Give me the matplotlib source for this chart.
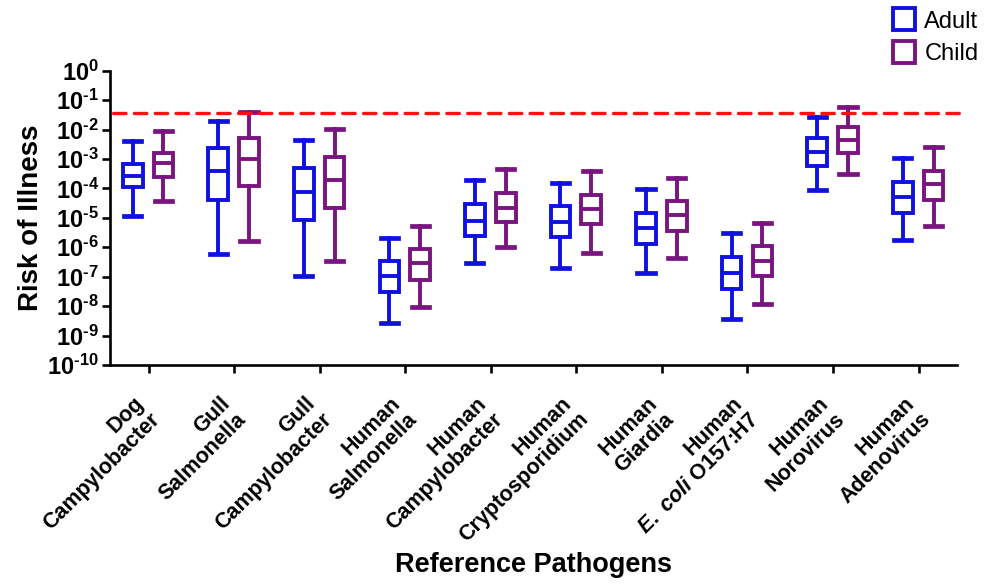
#!/usr/bin/env python3

import numpy as np
import matplotlib
matplotlib.use("Agg")
import matplotlib.pyplot as plt
from matplotlib.lines import Line2D
from matplotlib.ticker import NullLocator
from matplotlib.transforms import ScaledTranslation

plt.rcParams["font.family"] = "Liberation Sans"
plt.rcParams["mathtext.fontset"] = "custom"
plt.rcParams["mathtext.rm"] = "Liberation Sans:bold"
plt.rcParams["mathtext.bf"] = "Liberation Sans:bold"
plt.rcParams["mathtext.it"] = "Liberation Sans:bold:italic"

pathogens = ["Dog\nCampylobacter", "Gull\nSalmonella", "Gull\nCampylobacter",
             "Human\nSalmonella", "Human\nCampylobacter", "Human\nCryptosporidium",
             "Human\nGiardia", "Human\n$\\mathit{E.\\ coli}$ O157:H7",
             "Human\nNorovirus", "Human\nAdenovirus"]

# log10(risk): whisker low, q1, median, q3, whisker high
adult_lo  = [-4.94, -6.23, -6.96, -8.56, -6.52, -6.69, -6.89, -8.45, -4.06, -5.76]
adult_q1  = [-3.95, -4.40, -5.08, -7.51, -5.61, -5.65, -5.89, -7.41, -3.23, -4.82]
adult_med = [-3.57, -3.40, -4.11, -6.97, -5.10, -5.13, -5.34, -6.87, -2.76, -4.28]
adult_q3  = [-3.17, -2.64, -3.32, -6.46, -4.54, -4.60, -4.82, -6.32, -2.28, -3.77]
adult_hi  = [-2.39, -1.71, -2.34, -5.67, -3.72, -3.81, -4.02, -5.53, -1.57, -2.98]

child_lo  = [-4.43, -5.78, -6.46, -8.04, -6.00, -6.19, -6.38, -7.93, -3.51, -5.28]
child_q1  = [-3.61, -3.91, -4.66, -7.11, -5.14, -5.22, -5.45, -6.98, -2.79, -4.40]
child_med = [-3.15, -3.01, -3.70, -6.55, -4.65, -4.70, -4.91, -6.46, -2.36, -3.86]
child_q3  = [-2.79, -2.28, -2.95, -6.07, -4.17, -4.22, -4.43, -5.96, -1.92, -3.40]
child_hi  = [-2.05, -1.40, -1.98, -5.29, -3.34, -3.41, -3.64, -5.17, -1.23, -2.61]

benchmark = 0.036

blue = "#1010e0"
purple = "#7a1480"


def make_stats(lo, q1, med, q3, hi):
    out = []
    for a, b, c, d, e in zip(lo, q1, med, q3, hi):
        out.append(dict(whislo=10**a, q1=10**b, med=10**c, q3=10**d, whishi=10**e, fliers=[]))
    return out


fig = plt.figure(figsize=(9.84, 5.84), dpi=100)
ax = fig.add_axes([0.1118, 0.375, 0.8608, 0.504])

x = np.arange(len(pathogens))
lw = 2.8
for stats, pos, col in [(make_stats(adult_lo, adult_q1, adult_med, adult_q3, adult_hi), x - 0.185, blue),
                        (make_stats(child_lo, child_q1, child_med, child_q3, child_hi), x + 0.175, purple)]:
    ax.bxp(stats, positions=pos, widths=0.23, capwidths=0.2, showfliers=False,
           patch_artist=True,
           boxprops=dict(facecolor="white", edgecolor=col, linewidth=lw),
           whiskerprops=dict(color=col, linewidth=lw),
           capprops=dict(color=col, linewidth=lw + 0.6),
           medianprops=dict(color=col, linewidth=lw))

ax.plot([0.003, 1.01], [benchmark, benchmark], transform=ax.get_yaxis_transform(),
        color="#ff1010", lw=2.4, ls=(0, (3.75, 2.5)), dash_capstyle="round",
        clip_on=False, zorder=5)

ax.set_yscale("log")
ax.set_ylim(1e-10, 1)
ax.set_xlim(-0.45, 9.45)
ax.set_yticks([10.0**k for k in range(-10, 1)])
ax.set_yticklabels(["$10^{%s}$" % (str(k) if k == 0 else "\\text{-}%d" % -k) for k in range(-10, 1)],
                   fontsize=17)
ax.yaxis.set_minor_locator(NullLocator())
ax.set_xticks(x)
ax.set_xticklabels(pathogens, rotation=45, ha="right", va="top", rotation_mode="anchor",
                   multialignment="right", linespacing=1.12, fontsize=15.5, fontweight="bold")

for s in ["top", "right"]:
    ax.spines[s].set_visible(False)
for s in ["left", "bottom"]:
    ax.spines[s].set_linewidth(1.9)
ax.tick_params(axis="both", width=1.9, length=6)
ax.tick_params(axis="y", pad=2)
ax.tick_params(axis="x", pad=9)

# labels sit a bit left of and below their ticks in the reference
shift = ScaledTranslation(-0.15, -0.07, fig.dpi_scale_trans)
for lab in ax.get_xticklabels():
    lab.set_transform(lab.get_transform() + shift)

ax.set_ylabel("Risk of Illness", fontsize=20, fontweight="bold", labelpad=2)
ax.set_xlabel("Reference Pathogens", fontsize=19.5, fontweight="bold", labelpad=4)

handles = [Line2D([], [], marker="s", ls="none", mfc="white", mec=blue, ms=16, mew=2.8),
           Line2D([], [], marker="s", ls="none", mfc="white", mec=purple, ms=16, mew=2.8)]
fig.legend(handles, ["Adult", "Child"], loc="upper right", bbox_to_anchor=(1.016, 1.018),
           frameon=False, fontsize=17, handlelength=0.9, handletextpad=0.4, labelspacing=0.45)

fig.savefig("out.png", dpi=100)
